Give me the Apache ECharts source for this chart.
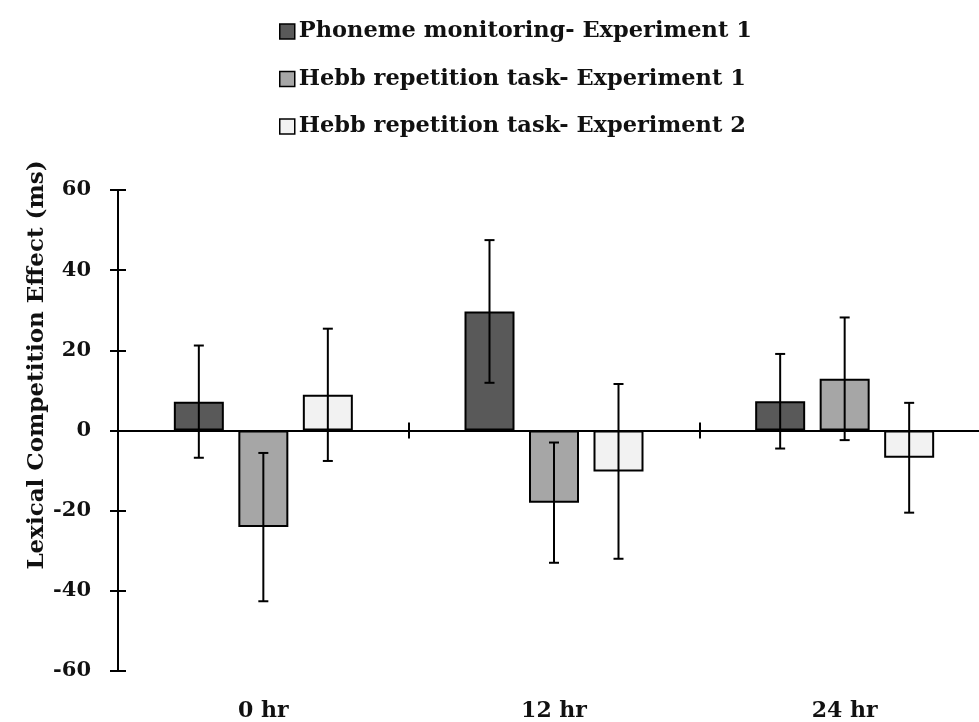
<!DOCTYPE html>
<html>
<head>
<meta charset="utf-8">
<script src="https://cdn.jsdelivr.net/npm/echarts@6/dist/echarts.min.js"></script>
<style>
  html, body { margin: 0; padding: 0; background: #fff; overflow: hidden; }
  /* the plot runs a little past the right edge of the picture */
  #chart { width: 990px; height: 722px; }
</style>
</head>
<body>
<div id="chart"></div>
<script>
// data
const categories = ['0 hr', '12 hr', '24 hr'];
const seriesNames = [
  'Phoneme monitoring- Experiment 1',
  'Hebb repetition task- Experiment 1',
  'Hebb repetition task- Experiment 2'
];
const phonemeExp1 = [7.2, 29.7, 7.3];
const hebbExp1 = [-24.1, -18.0, 12.9];
const hebbExp2 = [8.9, -10.2, -6.8];
const phonemeExp1Err = [14.0, 17.8, 11.8];
const hebbExp1Err = [18.5, 15.0, 15.3];
const hebbExp2Err = [16.5, 21.8, 13.7];
const yMin = -60;
const yMax = 60;
const yStep = 20;
const yTitle = 'Lexical Competition Effect (ms)';

const FONT = 'DejaVu Serif';
const colors = ['#595959', '#a6a6a6', '#f2f2f2'];
const BAR_W = 50;
const BAR_GAP = 0.29;

const values = [phonemeExp1, hebbExp1, hebbExp2];
const errors = [phonemeExp1Err, hebbExp1Err, hebbExp2Err];

const chart = echarts.init(document.getElementById('chart'));

const barSeries = values.map((vals, i) => ({
  name: seriesNames[i],
  type: 'bar',
  xAxisIndex: 0,
  yAxisIndex: 0,
  data: vals,
  barWidth: BAR_W,
  barGap: (BAR_GAP * 100) + '%',
  itemStyle: { color: colors[i], borderColor: '#000', borderWidth: 2 },
  emphasis: { disabled: true }
}));

// error bars, shifted to sit on the matching bar of each group
const errSeries = values.map((vals, i) => ({
  type: 'custom',
  xAxisIndex: 0,
  yAxisIndex: 0,
  z: 5,
  silent: true,
  data: vals.map((v, k) => [k, v, errors[i][k]]),
  renderItem: (params, api) => {
    const offset = (i - 1) * BAR_W * (1 + BAR_GAP);
    const x = api.coord([api.value(0), 0])[0] + offset;
    const yTop = api.coord([api.value(0), api.value(1) + api.value(2)])[1];
    const yBot = api.coord([api.value(0), api.value(1) - api.value(2)])[1];
    const cap = 5;
    const style = { stroke: '#000', lineWidth: 2 };
    return {
      type: 'group',
      children: [
        { type: 'line', shape: { x1: x, y1: yTop, x2: x, y2: yBot }, style },
        { type: 'line', shape: { x1: x - cap, y1: yTop, x2: x + cap, y2: yTop }, style },
        { type: 'line', shape: { x1: x - cap, y1: yBot, x2: x + cap, y2: yBot }, style }
      ]
    };
  }
}));

const tickStyle = { color: '#000', width: 2 };

const option = {
  animation: false,
  backgroundColor: '#fff',
  grid: { left: 118, right: 0, top: 190, bottom: 46 },
  legend: {
    data: seriesNames,
    orient: 'vertical',
    left: 274,
    top: 15,
    icon: 'rect',
    itemWidth: 15,
    itemHeight: 15,
    itemGap: 24.5,
    selectedMode: false,
    itemStyle: { borderColor: '#000', borderWidth: 1.5 },
    textStyle: { fontFamily: FONT, fontWeight: 'bold', fontSize: 22.5, lineHeight: 23, color: '#111', padding: [0, 0, 0, -1] }
  },
  xAxis: [
    {
      // labels along the bottom
      type: 'category',
      data: categories,
      position: 'bottom',
      axisLine: { show: false, onZero: false },
      axisTick: { show: false },
      axisLabel: { margin: 29, fontFamily: FONT, fontWeight: 'bold', fontSize: 22, color: '#111' }
    },
    {
      // line through zero, ticks pointing down
      type: 'category',
      data: categories,
      position: 'bottom',
      axisLine: { onZero: true, lineStyle: tickStyle },
      axisTick: { show: true, interval: 0, length: 8, lineStyle: tickStyle },
      axisLabel: { show: false, interval: 0 }
    },
    {
      // ticks pointing up
      type: 'category',
      data: categories,
      position: 'bottom',
      axisLine: { show: false, onZero: true },
      axisTick: { show: true, interval: 0, inside: true, length: 8, lineStyle: tickStyle },
      axisLabel: { show: false, interval: 0 }
    }
  ],
  yAxis: [
    {
      type: 'value',
      min: yMin,
      max: yMax,
      interval: yStep,
      position: 'left',
      splitLine: { show: false },
      axisLine: { show: true, lineStyle: tickStyle },
      axisTick: { show: true, length: 8, lineStyle: tickStyle },
      axisLabel: { margin: 27, fontFamily: FONT, fontWeight: 'bold', fontSize: 21, color: '#111' }
    },
    {
      type: 'value',
      min: yMin,
      max: yMax,
      interval: yStep,
      position: 'left',
      splitLine: { show: false },
      axisLine: { show: false },
      axisTick: { show: true, inside: true, length: 8, lineStyle: tickStyle },
      axisLabel: { show: false }
    }
  ],
  graphic: [
    {
      type: 'text',
      x: 37,
      y: 365,
      rotation: Math.PI / 2,
      style: {
        text: yTitle,
        fontFamily: FONT,
        fontWeight: 'bold',
        fontSize: 23,
        fill: '#111',
        align: 'center',
        verticalAlign: 'middle'
      }
    }
  ],
  series: barSeries.concat(errSeries)
};

chart.setOption(option);
</script>
</body>
</html>
